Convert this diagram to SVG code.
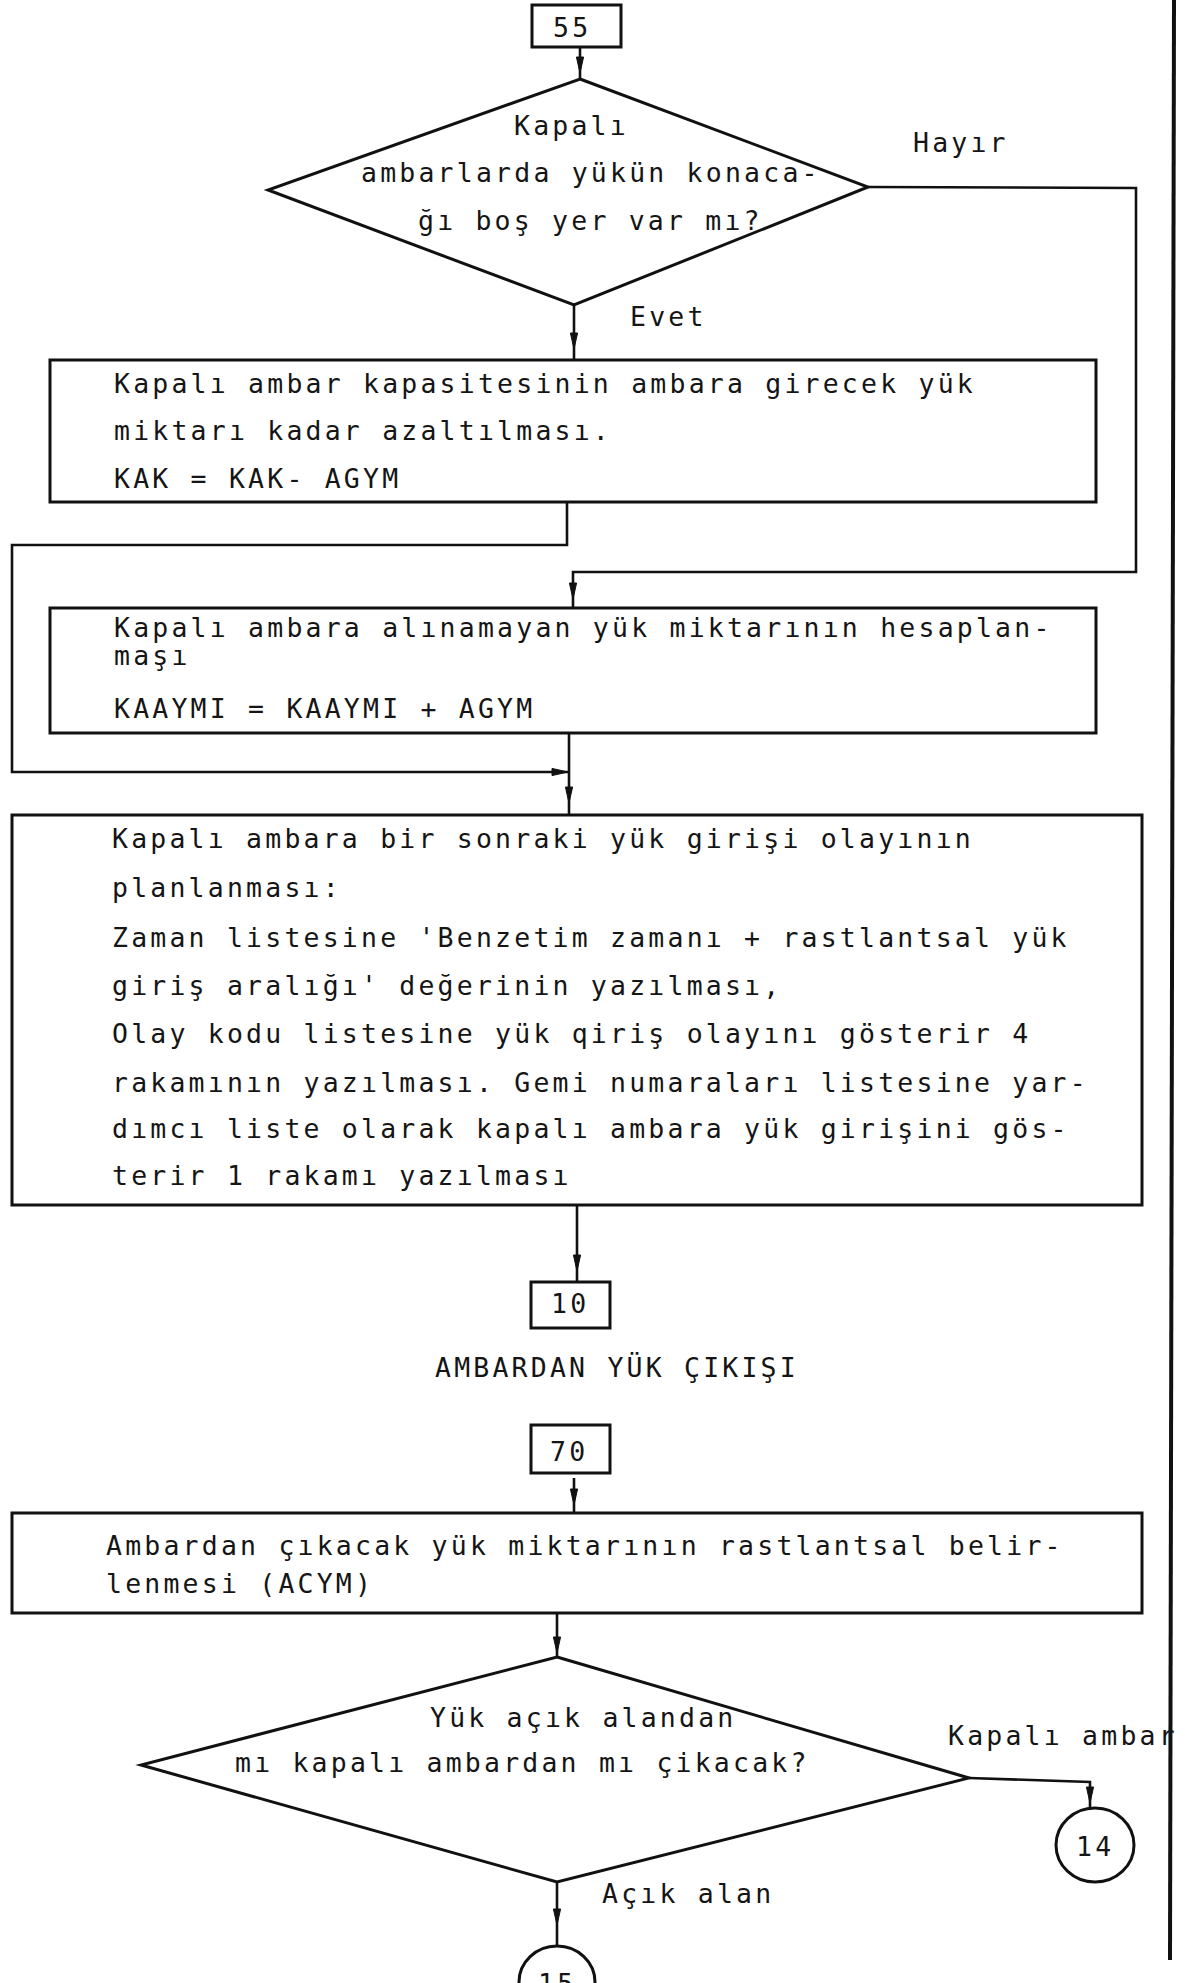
<svg xmlns="http://www.w3.org/2000/svg" xmlns:xlink="http://www.w3.org/1999/xlink" width="1185" height="1983" viewBox="0 0 1185 1983">
  <style>
    .bg { fill: #ffffff; }
    .shape { fill: none; stroke: #111111; stroke-width: 3; stroke-linejoin: miter; }
    .wire { fill: none; stroke: #111111; stroke-width: 2.6; stroke-linejoin: miter; }
    .rail { fill: none; stroke: #111111; stroke-width: 4; }
    .head { fill: #111111; stroke: #111111; stroke-width: 1; }
    text { font-family: "DejaVu Sans Mono", "Liberation Mono", monospace; font-size: 26.5px; letter-spacing: 3.2px; fill: #151515; }
  </style>
  <defs>
    <!-- slim arrowhead pointing along +x, tip at origin -->
    <path id="ah" class="head" d="M3,0 L-13,-3.6 L-13,3.6 Z"/>
  </defs>

  <rect class="bg" x="0" y="0" width="1185" height="1983"/>

  <!-- connectors -->
  <g id="connectors">
    <!-- 55 -> decision 1 -->
    <path class="wire" d="M580,47 L580,79"/>
    <use xlink:href="#ah" href="#ah" transform="translate(580,70) rotate(90)"/>
    <!-- Evet -> box 1 -->
    <path class="wire" d="M574,305 L574,360"/>
    <use xlink:href="#ah" href="#ah" transform="translate(574,346) rotate(90)"/>
    <!-- Hayir -> box 2 -->
    <path class="wire" d="M868,187 L1136,188 L1136,572 L573,572 L573,608"/>
    <use xlink:href="#ah" href="#ah" transform="translate(573,596) rotate(90)"/>
    <!-- box 1 -> merge point -->
    <path class="wire" d="M567,502 L567,545 L12,545 L12,772 L568,772"/>
    <use xlink:href="#ah" href="#ah" transform="translate(565,772)"/>
    <!-- box 2 -> box 3 -->
    <path class="wire" d="M569,733 L569,815"/>
    <use xlink:href="#ah" href="#ah" transform="translate(569,800) rotate(90)"/>
    <!-- box 3 -> 10 -->
    <path class="wire" d="M577,1205 L577,1282"/>
    <use xlink:href="#ah" href="#ah" transform="translate(577,1268) rotate(90)"/>
    <!-- 70 -> box 4 -->
    <path class="wire" d="M574,1478 L574,1513"/>
    <use xlink:href="#ah" href="#ah" transform="translate(574,1502) rotate(90)"/>
    <!-- box 4 -> decision 2 -->
    <path class="wire" d="M557,1613 L557,1657"/>
    <use xlink:href="#ah" href="#ah" transform="translate(557,1650) rotate(90)"/>
    <!-- Kapali ambar -> 14 -->
    <path class="wire" d="M969,1778 L1090,1782 L1090,1808"/>
    <use xlink:href="#ah" href="#ah" transform="translate(1090,1800) rotate(90)"/>
    <!-- Acik alan -> 15 -->
    <path class="wire" d="M557,1882 L557,1946"/>
    <use xlink:href="#ah" href="#ah" transform="translate(557,1922) rotate(90)"/>
    <!-- long rail on the right -->
    <path class="rail" d="M1174,0 L1170,1960"/>
  </g>

  <g id="n55">
    <rect class="shape" x="532" y="5" width="89" height="42"/>
    <text x="553" y="37">55</text>
  </g>

  <g id="decision1">
    <polygon class="shape" points="580,79 868,187 574,305 268,190"/>
    <text x="514" y="135">Kapalı</text>
    <text x="361" y="182">ambarlarda yükün konaca-</text>
    <text x="418" y="230">ğı boş yer var mı?</text>
    <text x="913" y="152">Hayır</text>
    <text x="630" y="326">Evet</text>
  </g>

  <g id="box1">
    <rect class="shape" x="50" y="360" width="1046" height="142"/>
    <text x="114" y="393">Kapalı ambar kapasitesinin ambara girecek yük</text>
    <text x="114" y="440">miktarı kadar azaltılması.</text>
    <text x="114" y="488">KAK = KAK- AGYM</text>
  </g>

  <g id="box2">
    <rect class="shape" x="50" y="608" width="1046" height="125"/>
    <text x="114" y="637">Kapalı ambara alınamayan yük miktarının hesaplan-</text>
    <text x="114" y="665">maşı</text>
    <text x="114" y="718">KAAYMI = KAAYMI + AGYM</text>
  </g>

  <g id="box3">
    <rect class="shape" x="12" y="815" width="1130" height="390"/>
    <text x="112" y="848">Kapalı ambara bir sonraki yük girişi olayının</text>
    <text x="112" y="897">planlanması:</text>
    <text x="112" y="947">Zaman listesine 'Benzetim zamanı + rastlantsal yük</text>
    <text x="112" y="995">giriş aralığı' değerinin yazılması,</text>
    <text x="112" y="1043">Olay kodu listesine yük qiriş olayını gösterir 4</text>
    <text x="112" y="1092">rakamının yazılması. Gemi numaraları listesine yar-</text>
    <text x="112" y="1138">dımcı liste olarak kapalı ambara yük girişini gös-</text>
    <text x="112" y="1185">terir 1 rakamı yazılması</text>
  </g>

  <g id="n10">
    <rect class="shape" x="531" y="1282" width="79" height="46"/>
    <text x="551" y="1313">10</text>
  </g>

  <g id="title">
    <text x="435" y="1377">AMBARDAN YÜK ÇIKIŞI</text>
  </g>

  <g id="n70">
    <rect class="shape" x="531" y="1425" width="79" height="48"/>
    <text x="550" y="1461">70</text>
  </g>

  <g id="box4">
    <rect class="shape" x="12" y="1513" width="1130" height="100"/>
    <text x="106" y="1555">Ambardan çıkacak yük miktarının rastlantsal belir-</text>
    <text x="106" y="1593">lenmesi (ACYM)</text>
  </g>

  <g id="decision2">
    <polygon class="shape" points="557,1657 969,1778 557,1882 141,1765"/>
    <text x="430" y="1727">Yük açık alandan</text>
    <text x="235" y="1772">mı kapalı ambardan mı çikacak?</text>
    <text x="948" y="1745">Kapalı ambar</text>
    <text x="602" y="1903">Açık alan</text>
  </g>

  <g id="c14">
    <ellipse class="shape" cx="1095" cy="1845" rx="39" ry="37"/>
    <text x="1076" y="1856">14</text>
  </g>

  <g id="c15">
    <ellipse class="shape" cx="557" cy="1982" rx="38" ry="36"/>
    <text x="538" y="1993">15</text>
  </g>
</svg>
